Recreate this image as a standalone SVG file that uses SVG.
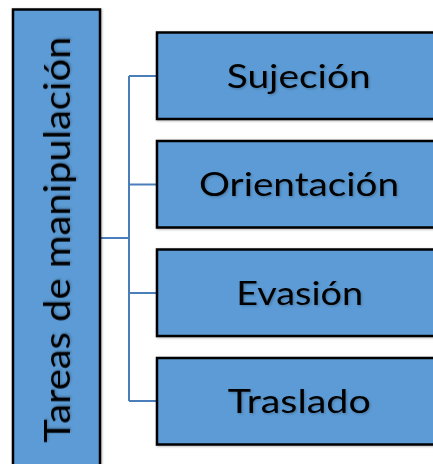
<svg xmlns="http://www.w3.org/2000/svg" width="433" height="464" viewBox="0 0 433 464">
<defs>
<style>
.box{fill:#5b9bd5;stroke:#000;stroke-width:2.5}
.lbl{font-family:Lato,"Liberation Sans",sans-serif;font-size:33.5px;fill:#000;text-anchor:middle;filter:url(#ts)}
.conn{fill:none;stroke:#4a7ebb;stroke-width:2}
</style>
<filter id="ts" x="-10%" y="-30%" width="120%" height="160%">
<feDropShadow dx="1.2" dy="1.2" stdDeviation="1.3" flood-color="#000" flood-opacity="0.22"/>
</filter>
<filter id="bs" x="-5%" y="-5%" width="110%" height="110%">
<feDropShadow dx="0.8" dy="0.8" stdDeviation="0.8" flood-color="#000" flood-opacity="0.3"/>
</filter>
</defs>
<rect width="433" height="464" fill="#fff"/>
<g id="connectors">
<path class="conn" d="M100,238 H129 M129,76 V401 M129,76 H157 M129,184.5 H157 M129,293 H157 M129,401 H157"/>
</g>
<g id="root">
<rect class="box" x="13" y="9.5" width="87" height="470" filter="url(#bs)"/>
<text class="lbl" transform="translate(70,239.7) rotate(-90)" style="font-size:37.5px" textLength="406" lengthAdjust="spacingAndGlyphs">Tareas de manipulación</text>
</g>
<g id="n1">
<rect class="box" x="157" y="32.5" width="300" height="86.5" filter="url(#bs)"/>
<text class="lbl" x="298.7" y="88" textLength="144" lengthAdjust="spacingAndGlyphs">Sujeción</text>
</g>
<g id="n2">
<rect class="box" x="157" y="141" width="300" height="86.5" filter="url(#bs)"/>
<text class="lbl" x="299" y="196" textLength="200" lengthAdjust="spacingAndGlyphs">Orientación</text>
</g>
<g id="n3">
<rect class="box" x="157" y="249.5" width="300" height="86.5" filter="url(#bs)"/>
<text class="lbl" x="299.7" y="305" textLength="127" lengthAdjust="spacingAndGlyphs">Evasión</text>
</g>
<g id="n4">
<rect class="box" x="157" y="358" width="300" height="86.5" filter="url(#bs)"/>
<text class="lbl" x="299.3" y="413.3" textLength="143" lengthAdjust="spacingAndGlyphs">Traslado</text>
</g>
</svg>
